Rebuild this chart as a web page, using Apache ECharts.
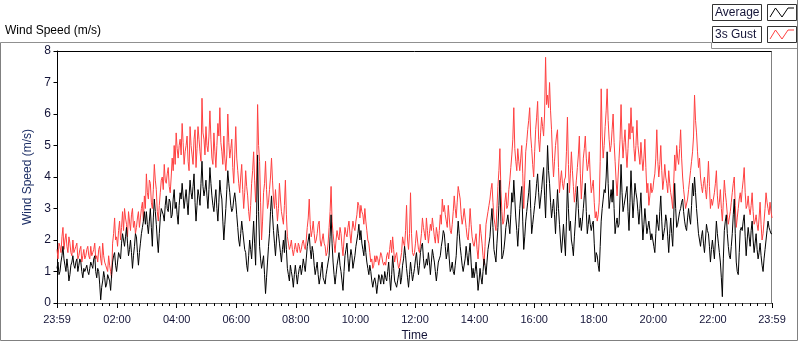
<!DOCTYPE html>
<html lang="en">
  <head>
    <meta charset="UTF-8" />
    <title>Wind Speed</title>
    <script src="https://cdn.jsdelivr.net/npm/echarts@6.0.0/dist/echarts.min.js"></script>
    <style>
      html, body { margin: 0; padding: 0; background: #fff; }
    </style>
  </head>
  <body>
    <div id="main" style="width: 800px;height:342px;"></div>
    <script type="text/javascript">
      // samples every 2 minutes, first one at 23:59 of the previous day
      var startMinute = -1;
      var stepMinutes = 2;
      var timeLabels = ['23:59', '02:00', '04:00', '06:00', '08:00', '10:00', '12:00',
        '14:00', '16:00', '18:00', '20:00', '22:00', '23:59'];
      var speedTicks = [0, 1, 2, 3, 4, 5, 6, 7, 8];

      // 3s gust (m/s), one row per hour
      var gust = [
        1.7,1.4,1.9,1.8,1.6,2.1,2.4,1.7,2.0,2.2,1.8,1.6,2.1,1.9,1.6,1.5,2.0,1.6,1.7,1.8,1.9,1.4,1.5,1.7,1.8,1.3,1.5,1.7,1.4,1.5,
        1.7,1.8,1.5,1.4,1.8,1.5,1.6,1.7,1.9,1.4,1.5,1.3,1.7,1.8,1.4,1.2,1.9,1.5,1.3,1.2,1.2,1.0,1.5,1.2,1.0,0.8,1.9,2.2,2.7,2.0,
        2.1,1.8,2.3,2.6,2.0,2.4,2.9,2.3,3.0,2.7,2.5,2.1,2.9,2.6,2.3,2.8,3.0,2.4,2.6,2.2,2.4,2.7,2.9,2.4,2.7,3.0,3.2,2.6,3.4,3.0,
        4.1,3.5,3.3,3.9,3.8,3.2,3.0,3.6,4.4,3.9,3.6,2.9,2.6,3.1,3.5,3.9,4.0,3.6,4.4,3.9,3.8,4.1,4.3,3.7,3.5,4.0,4.6,4.2,5.0,4.4,
        5.4,4.9,4.6,5.0,5.2,4.7,5.7,5.1,4.4,4.8,5.0,5.3,4.5,4.2,5.6,5.0,4.7,4.4,5.2,5.5,4.3,4.9,5.6,5.2,4.8,4.5,6.5,5.4,5.2,4.7,
        5.6,5.0,4.8,5.3,6.1,5.2,4.6,4.4,5.4,4.8,4.3,5.0,5.7,5.3,6.2,5.1,4.8,4.4,5.3,4.6,4.2,4.7,6.0,5.1,4.6,4.9,5.2,4.3,3.8,4.7,
        5.6,4.6,4.2,3.8,3.5,4.0,4.4,3.6,3.0,3.5,4.2,3.7,3.4,2.9,2.6,3.1,3.8,4.2,4.8,3.9,3.2,4.0,6.3,5.0,4.5,3.2,2.0,2.6,3.5,3.8,
        4.5,3.6,3.0,3.2,3.6,4.0,4.6,3.9,3.3,3.0,3.6,3.1,2.6,3.0,3.8,3.3,2.9,2.7,2.5,3.1,3.9,2.8,2.1,1.9,1.7,1.8,2.0,1.7,1.5,1.7,
        1.9,1.7,1.6,1.9,1.8,1.6,1.7,1.9,2.0,1.8,1.7,2.0,2.4,2.7,3.3,2.5,2.1,2.3,2.6,2.2,1.9,2.0,2.2,2.5,2.6,2.0,1.8,2.0,2.2,1.9,
        1.8,1.5,1.6,1.9,2.4,2.9,3.7,2.6,2.2,1.9,1.6,2.0,2.3,2.1,2.0,2.4,2.2,1.8,1.5,2.0,2.4,2.2,2.1,2.4,2.6,2.2,1.9,2.3,2.6,2.4,
        2.3,2.6,2.8,3.2,3.1,2.7,3.1,2.9,2.8,2.5,3.0,2.6,2.3,2.0,1.9,1.6,1.3,1.4,1.1,1.2,1.5,1.3,1.5,1.4,1.2,1.4,1.6,1.5,1.3,1.2,
        1.3,1.2,1.5,1.6,1.4,1.7,2.0,1.6,2.1,1.7,1.3,1.5,1.6,1.3,1.1,1.2,1.4,1.6,2.1,1.9,1.8,2.3,3.1,2.0,1.7,2.2,3.5,2.2,1.6,1.5,
        1.6,1.9,2.3,2.0,1.7,1.6,1.9,2.2,2.7,2.4,2.2,2.0,2.7,2.3,1.9,2.2,2.5,2.3,2.7,2.4,2.1,1.9,2.4,2.2,1.9,2.3,2.8,2.5,3.3,2.9,
        3.1,2.8,2.6,2.4,3.1,2.7,2.3,2.2,2.5,2.9,3.4,3.0,2.7,3.2,3.7,3.5,3.3,2.8,2.5,2.7,3.0,2.7,2.4,2.1,2.0,2.4,3.0,2.5,2.1,1.9,
        1.8,2.0,2.2,1.7,1.4,1.9,2.5,2.2,1.9,1.5,1.2,1.8,2.5,2.7,2.9,3.1,3.3,3.6,3.8,3.2,2.7,2.5,2.3,3.0,3.7,4.2,4.9,3.6,2.9,2.5,
        2.6,3.2,3.5,3.0,3.1,3.6,3.9,4.3,4.7,5.2,6.2,4.9,4.5,4.2,4.9,4.5,4.2,4.6,5.0,4.1,3.0,3.9,4.8,5.1,5.5,5.8,6.2,5.3,4.9,4.4,
        4.0,4.8,5.5,5.9,6.4,5.2,4.8,5.4,5.9,5.6,5.3,6.0,7.8,6.3,6.6,6.2,7.0,6.1,5.5,4.6,4.0,4.5,5.0,5.3,5.5,4.3,3.5,3.9,4.2,3.8,
        3.6,3.9,4.0,4.8,5.9,4.4,3.5,4.1,4.8,4.2,3.7,3.2,3.5,3.9,4.3,4.7,5.3,4.1,3.3,3.9,4.6,4.9,5.3,4.6,4.2,4.4,4.8,4.0,3.5,3.7,
        3.9,3.2,2.7,2.9,2.6,2.8,3.2,4.5,6.8,5.3,4.6,5.0,5.6,6.1,6.8,5.8,5.2,4.8,5.0,5.5,6.0,5.1,4.5,3.9,3.4,4.0,4.6,5.2,6.3,5.2,
        4.6,5.1,5.5,4.8,4.3,4.9,5.7,5.2,6.2,5.4,5.6,4.9,4.5,5.0,5.8,5.0,4.7,4.4,5.1,4.6,4.2,4.6,5.2,4.3,3.5,3.8,3.1,3.4,3.8,3.5,
        3.6,3.9,4.1,4.6,5.5,4.5,4.0,4.4,5.0,4.2,3.6,3.9,4.4,4.0,3.8,3.5,4.2,3.8,3.5,3.3,3.0,3.8,4.7,4.2,5.0,4.6,4.4,4.9,5.5,4.6,
        4.0,3.6,3.3,3.0,3.0,3.3,3.6,3.9,4.2,4.5,4.8,5.3,6.6,5.8,5.4,4.8,4.3,4.6,4.0,3.7,3.5,3.8,4.0,3.6,3.3,3.8,4.5,3.7,3.0,3.3,
        3.1,3.3,3.5,3.8,4.2,3.4,3.0,3.2,3.6,3.0,2.6,3.2,3.9,3.5,3.2,2.8,2.5,2.7,2.9,3.2,3.5,3.8,4.0,3.1,2.4,2.7,3.0,3.3,3.5,3.2,
        3.6,3.9,4.3,3.5,3.0,3.1,3.4,3.0,2.8,3.1,3.5,2.9,2.5,2.6,2.8,2.5,2.3,2.7,3.2,2.5,2.0,2.2,2.6,3.0,3.5,3.2,3.0,2.8,3.2,2.9,
        2.7
      ];

      // average (m/s), one row per hour
      var average = [
        1.1,1.3,0.9,1.0,1.3,1.5,1.8,1.4,1.2,1.0,1.4,1.1,0.7,0.9,1.2,1.3,1.5,1.2,1.1,1.3,1.4,1.0,1.2,1.4,1.3,1.0,0.8,1.1,1.0,1.1,
        1.2,1.0,0.9,1.1,1.3,1.2,1.1,1.4,1.5,1.0,0.8,1.1,1.0,0.6,0.1,0.5,0.7,1.0,0.8,0.5,0.6,0.9,0.9,0.7,0.4,0.9,1.3,1.5,1.6,1.2,
        1.0,1.3,1.6,1.5,1.4,1.9,2.2,2.0,1.8,2.1,2.4,1.9,1.5,1.7,2.0,1.6,1.1,1.5,1.8,2.2,2.1,1.6,1.2,1.6,1.9,2.2,2.4,2.6,2.9,2.5,
        2.9,2.5,2.2,2.6,3.0,2.4,1.8,2.7,3.3,2.9,2.5,2.0,1.6,2.2,2.7,3.0,3.0,2.8,2.6,3.1,3.4,3.0,2.9,3.3,3.2,2.7,2.8,3.3,3.6,3.0,
        3.2,2.8,2.5,3.1,3.5,3.3,3.8,3.4,3.0,3.3,3.6,3.2,2.8,3.4,3.9,3.5,3.3,3.7,4.1,3.2,2.6,3.1,3.6,3.4,3.1,3.8,4.5,3.7,3.4,3.6,
        3.9,3.4,3.0,3.6,4.3,3.8,3.4,3.1,2.9,3.3,3.6,3.0,2.6,3.2,3.9,3.5,3.3,2.6,2.0,2.5,3.0,3.6,4.2,3.8,3.5,3.1,2.9,3.0,3.3,3.5,
        3.2,2.8,2.4,2.0,1.8,2.2,2.6,2.3,2.0,1.7,1.6,1.2,1.0,1.5,2.0,1.7,1.4,2.0,2.6,1.9,1.2,2.8,4.7,2.9,1.8,1.4,1.1,1.3,1.5,0.9,
        0.3,0.8,1.3,1.8,2.2,2.9,3.4,2.8,2.3,1.9,1.5,2.0,2.5,2.2,1.9,1.6,1.3,1.7,2.0,1.6,2.3,1.7,1.1,0.9,0.7,1.2,1.0,0.8,0.5,0.9,
        1.2,0.9,0.6,0.9,1.1,1.2,0.9,1.1,1.4,1.2,1.0,1.4,1.8,2.0,2.2,1.7,1.4,1.8,1.6,1.2,0.9,1.1,1.3,0.9,0.6,0.8,1.1,1.3,0.8,0.7,
        0.6,0.9,1.1,1.3,1.5,2.1,2.8,1.9,1.3,0.9,0.6,0.9,1.2,1.4,1.6,1.2,1.0,0.7,0.4,1.0,1.5,1.7,1.9,1.4,1.0,1.4,1.7,1.5,1.1,1.3,
        1.5,1.8,2.0,2.2,2.5,2.0,2.3,1.9,1.7,1.5,2.0,1.6,1.3,1.1,0.9,1.2,1.0,0.7,0.5,0.7,0.8,0.6,0.3,0.6,0.9,0.8,0.6,0.9,0.8,0.6,
        1.0,0.8,0.7,1.0,1.3,0.8,0.4,0.9,1.5,1.1,0.7,0.6,0.5,0.7,0.9,1.1,0.6,0.8,1.2,1.4,1.8,1.5,1.1,0.8,0.5,0.9,1.3,1.0,0.7,0.9,
        1.1,1.4,1.6,1.2,0.9,1.2,1.6,1.8,1.9,1.4,1.1,1.2,1.4,1.2,1.6,1.3,0.9,1.3,1.7,1.5,1.3,1.0,0.7,1.0,1.3,1.4,1.5,1.8,2.0,2.3,
        2.2,1.8,1.4,1.6,1.9,1.4,1.0,1.1,1.3,1.0,0.9,1.2,1.5,2.1,2.6,2.2,1.8,1.5,1.2,1.0,1.0,1.4,1.8,1.5,1.2,1.6,1.9,1.3,0.8,1.1,
        0.8,1.0,1.3,0.9,0.4,0.7,1.1,0.8,0.6,1.0,1.4,1.2,0.9,1.3,1.7,1.9,2.1,2.6,3.0,2.4,1.7,1.5,1.3,1.9,2.4,3.1,3.9,2.6,1.4,1.5,
        1.7,2.0,2.4,2.6,2.8,2.5,2.2,2.8,3.5,3.2,3.9,3.3,2.7,2.3,1.8,2.4,3.0,3.4,3.7,2.6,1.7,2.1,2.6,2.9,3.2,3.5,3.9,3.0,2.2,2.5,
        2.8,3.1,3.4,3.8,4.1,3.5,3.0,3.3,3.6,4.0,4.3,3.4,2.7,3.8,5.0,4.2,3.8,3.2,2.7,3.0,3.3,2.8,2.2,2.9,3.6,3.0,2.5,2.0,1.6,2.0,
        2.5,2.0,1.5,2.6,3.8,3.0,2.3,2.6,2.0,1.8,1.5,2.1,2.6,3.2,3.7,3.0,2.4,2.7,2.3,2.6,3.0,3.4,3.8,2.9,2.2,2.5,2.8,2.5,2.3,2.5,
        2.6,1.9,1.3,1.6,1.5,1.2,1.0,1.8,2.6,3.0,3.3,3.6,3.5,4.0,4.8,3.8,3.0,3.3,3.6,3.2,3.9,3.0,2.2,2.5,2.7,2.4,2.5,3.4,4.4,3.5,
        2.9,3.1,3.3,3.5,3.7,2.9,2.3,3.2,4.2,3.4,2.7,3.2,3.8,3.5,3.3,2.9,2.5,3.0,3.5,2.7,2.0,2.5,3.0,2.6,2.2,2.4,2.6,2.3,2.0,2.2,
        2.0,1.8,1.6,2.2,2.8,2.5,2.3,2.9,3.4,2.6,2.0,2.2,2.4,2.8,2.6,2.1,1.6,2.2,2.7,2.2,1.8,2.7,3.8,3.0,2.4,2.5,2.7,2.9,3.0,3.2,
        3.3,2.9,2.6,2.4,2.3,2.7,3.0,2.7,2.5,3.1,3.8,3.4,4.0,3.5,3.0,2.6,2.2,2.0,1.8,2.1,2.3,1.9,1.6,2.0,2.5,2.3,2.2,1.8,1.3,1.7,
        2.0,1.7,1.4,2.0,2.6,2.2,1.9,1.6,1.3,0.8,0.2,1.4,2.3,2.6,2.8,2.2,1.8,1.5,1.4,1.8,2.2,2.8,3.3,2.2,1.3,1.0,0.9,1.6,2.3,2.4,
        2.3,2.6,2.8,2.1,1.5,2.0,2.4,2.1,1.8,2.3,2.6,2.0,1.6,1.9,2.2,1.7,1.4,1.6,1.9,1.5,1.2,1.0,1.4,1.7,2.0,2.3,2.6,2.4,2.3,2.2,
        2.2
      ];

      function toMinute(label, i) {
        if (i === 0) return startMinute;
        var p = label.split(':');
        return parseInt(p[0], 10) * 60 + parseInt(p[1], 10);
      }
      function toLabel(m) {
        if (m < 0) m += 1440;
        var h = Math.floor(m / 60), mm = m % 60;
        return (h < 10 ? '0' : '') + h + ':' + (mm < 10 ? '0' : '') + mm;
      }

      var majorTicks = timeLabels.map(toMinute);
      var minorTicks = [];
      for (var m = 15; m < 1439; m += 15) {
        if (m % 120 !== 0) minorTicks.push(m);
      }
      function pairs(arr) {
        return arr.map(function (v, i) { return [startMinute + i * stepMinutes, v]; });
      }

      var font = 'Liberation Sans';
      var textCol = '#141438';
      var endMinute = majorTicks[majorTicks.length - 1];

      var myChart = echarts.init(document.getElementById('main'));
      myChart.setOption({
        animation: false,
        grid: { left: 57, top: 51, right: 28, bottom: 39, outerBoundsMode: 'none' },
        xAxis: [{
          type: 'value', min: startMinute, max: endMinute,
          name: 'Time', nameLocation: 'middle', nameGap: 25,
          nameTextStyle: { fontFamily: font, fontSize: 12, color: textCol },
          axisLine: { lineStyle: { color: '#606060' } },
          axisTick: { customValues: majorTicks, length: 5, lineStyle: { color: '#000' } },
          axisLabel: { customValues: majorTicks, formatter: toLabel, margin: 11,
            fontFamily: font, fontSize: 11, color: textCol },
          splitLine: { show: false }
        }, {
          type: 'value', min: startMinute, max: endMinute, position: 'bottom',
          axisLine: { show: false },
          axisTick: { customValues: minorTicks, length: 3, lineStyle: { color: '#000' } },
          axisLabel: { show: false },
          splitLine: { show: false }
        }],
        yAxis: {
          type: 'value', min: speedTicks[0], max: speedTicks[speedTicks.length - 1], interval: 1,
          name: 'Wind Speed (m/s)', nameLocation: 'middle', nameGap: 18,
          nameTextStyle: { fontFamily: font, fontSize: 12, color: '#1d2f66' },
          axisLine: { show: true, lineStyle: { color: '#000' } },
          axisTick: { show: true, length: 4, lineStyle: { color: '#000' } },
          axisLabel: { margin: 6, fontFamily: font, fontSize: 12, color: textCol },
          splitLine: { show: false }
        },
        series: [{
          name: '3s Gust', type: 'line', data: pairs(gust),
          showSymbol: false, lineStyle: { color: '#ff4040', width: 1 }
        }, {
          name: 'Average', type: 'line', data: pairs(average),
          showSymbol: false, lineStyle: { color: '#000', width: 1 }
        }],
        graphic: [
          { type: 'text', left: 5, top: 25,
            style: { text: 'Wind Speed (m/s)', font: '12px ' + font, fill: '#000' } },
          { type: 'polyline', shape: { points: [[0.5, 42.5], [711.5, 42.5], [711.5, 48.5], [797.5, 48.5]] },
            style: { stroke: '#909090', fill: null, lineWidth: 1 } },
          { type: 'polyline', shape: { points: [[0.5, 42.5], [0.5, 340.5], [797.5, 340.5], [797.5, 0]] },
            style: { stroke: '#808080', fill: null, lineWidth: 1 } },
          { type: 'line', shape: { x1: 57, y1: 51.5, x2: 772, y2: 51.5 }, style: { stroke: '#000', lineWidth: 1 } },
          { type: 'line', shape: { x1: 771.5, y1: 51.5, x2: 771.5, y2: 303 }, style: { stroke: '#808080', lineWidth: 1 } },
          { type: 'rect', shape: { x: 712.5, y: 4.5, width: 49, height: 16 }, style: { stroke: '#333', fill: '#fff' } },
          { type: 'text', x: 715, y: 12.5,
            style: { text: 'Average', font: '12px ' + font, fill: textCol, verticalAlign: 'middle' } },
          { type: 'rect', shape: { x: 767.5, y: 4.5, width: 29, height: 16 }, style: { stroke: '#333', fill: '#fff' } },
          { type: 'polyline', shape: { points: [[770, 17], [775.5, 8], [782, 17], [788, 8], [794, 8]] },
            style: { stroke: '#000', fill: null, lineWidth: 1 } },
          { type: 'rect', shape: { x: 712.5, y: 26.5, width: 49, height: 16 }, style: { stroke: '#333', fill: '#fff' } },
          { type: 'text', x: 715, y: 34.5,
            style: { text: '3s Gust', font: '12px ' + font, fill: textCol, verticalAlign: 'middle' } },
          { type: 'rect', shape: { x: 767.5, y: 26.5, width: 29, height: 16 }, style: { stroke: '#333', fill: '#fff' } },
          { type: 'polyline', shape: { points: [[770, 39], [775.5, 30], [782, 39], [788, 30], [794, 30]] },
            style: { stroke: '#ff4040', fill: null, lineWidth: 1 } }
        ]
      });
    </script>
  </body>
</html>
